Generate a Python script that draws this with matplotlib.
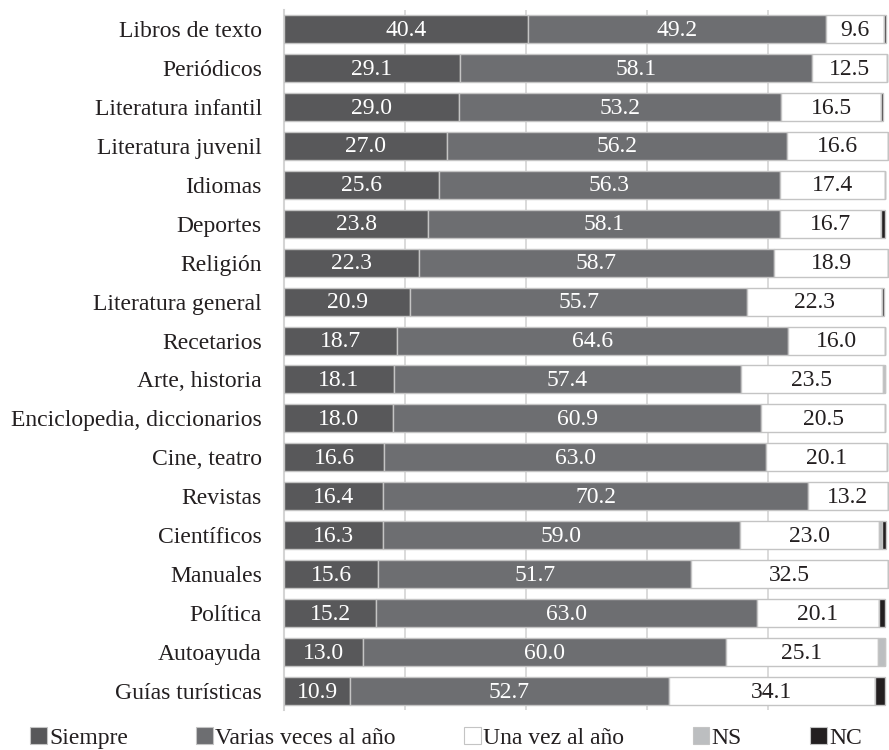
import matplotlib.pyplot as plt
from matplotlib.patches import Patch

plt.rcParams["font.family"] = ["Liberation Serif", "DejaVu Serif"]

categories = [
    "Libros de texto", "Periódicos", "Literatura infantil", "Literatura juvenil",
    "Idiomas", "Deportes", "Religión", "Literatura general", "Recetarios",
    "Arte, historia", "Enciclopedia, diccionarios", "Cine, teatro", "Revistas",
    "Científicos", "Manuales", "Política", "Autoayuda", "Guías turísticas",
]

siempre = [40.4, 29.1, 29.0, 27.0, 25.6, 23.8, 22.3, 20.9, 18.7,
           18.1, 18.0, 16.6, 16.4, 16.3, 15.6, 15.2, 13.0, 10.9]
varias = [49.2, 58.1, 53.2, 56.2, 56.3, 58.1, 58.7, 55.7, 64.6,
          57.4, 60.9, 63.0, 70.2, 59.0, 51.7, 63.0, 60.0, 52.7]
una_vez = [9.6, 12.5, 16.5, 16.6, 17.4, 16.7, 18.9, 22.3, 16.0,
           23.5, 20.5, 20.1, 13.2, 23.0, 32.5, 20.1, 25.1, 34.1]
ns = [0.0, 0.0, 0.0, 0.0, 0.0, 0.0, 0.0, 0.0, 0.0,
      0.4, 0.0, 0.0, 0.0, 0.5, 0.0, 0.0, 1.3, 0.0]
nc = [0.3, 0.0, 0.3, 0.0, 0.0, 0.8, 0.0, 0.3, 0.0,
      0.0, 0.0, 0.0, 0.0, 0.7, 0.0, 1.1, 0.0, 1.7]

series_names = ["Siempre", "Varias veces al año", "Una vez al año", "NS", "NC"]
colors = ["#58585a", "#6d6e71", "#ffffff", "#bcbec0", "#231f20"]
text_colors = ["white", "white", "#231f20", None, None]

fig = plt.figure(figsize=(8.89, 7.5), dpi=100)
ax = fig.add_axes([0.3195, 0.0527, 0.6805, 0.9346])

y = list(range(len(categories)))
left = [0.0] * len(categories)

for values, color, tcolor in zip([siempre, varias, una_vez, ns, nc], colors, text_colors):
    bars = ax.barh(y, values, left=left, height=0.72, color=color,
                   edgecolor="#c4c4c4", linewidth=1.0, zorder=3)
    if tcolor:
        for bar, v in zip(bars, values):
            ax.text(bar.get_x() + bar.get_width() / 2,
                    bar.get_y() + bar.get_height() / 2 + 0.03,
                    f"{v:.1f}", ha="center", va="center",
                    color=tcolor, fontsize=17, zorder=4)
    left = [a + b for a, b in zip(left, values)]

ax.set_xlim(0, 100)
ax.set_ylim(len(categories) - 0.5, -0.5)
ax.set_yticks(y)
ax.set_yticklabels(categories, fontsize=17, color="#231f20")
ax.set_xticks([20, 40, 60, 80])
ax.tick_params(axis="x", length=0, labelbottom=False)
ax.tick_params(axis="y", length=0, pad=16)
ax.grid(axis="x", color="#d4d4d4", linewidth=1.2, zorder=0)

for side in ["top", "right", "bottom"]:
    ax.spines[side].set_visible(False)
ax.spines["left"].set_color("#d4d4d4")
ax.spines["left"].set_linewidth(1.5)

handles = [Patch(facecolor=c, edgecolor="#c4c4c4", linewidth=0.8) for c in colors]
fig.legend(handles, series_names, loc="center left", bbox_to_anchor=(0.034, 0.016),
           ncol=5, frameon=False, fontsize=17, handlelength=0.7, handleheight=0.7,
           handletextpad=0.1, columnspacing=2.9, borderaxespad=0, borderpad=0,
           labelcolor="#231f20")

fig.savefig("out.png", dpi=100)
